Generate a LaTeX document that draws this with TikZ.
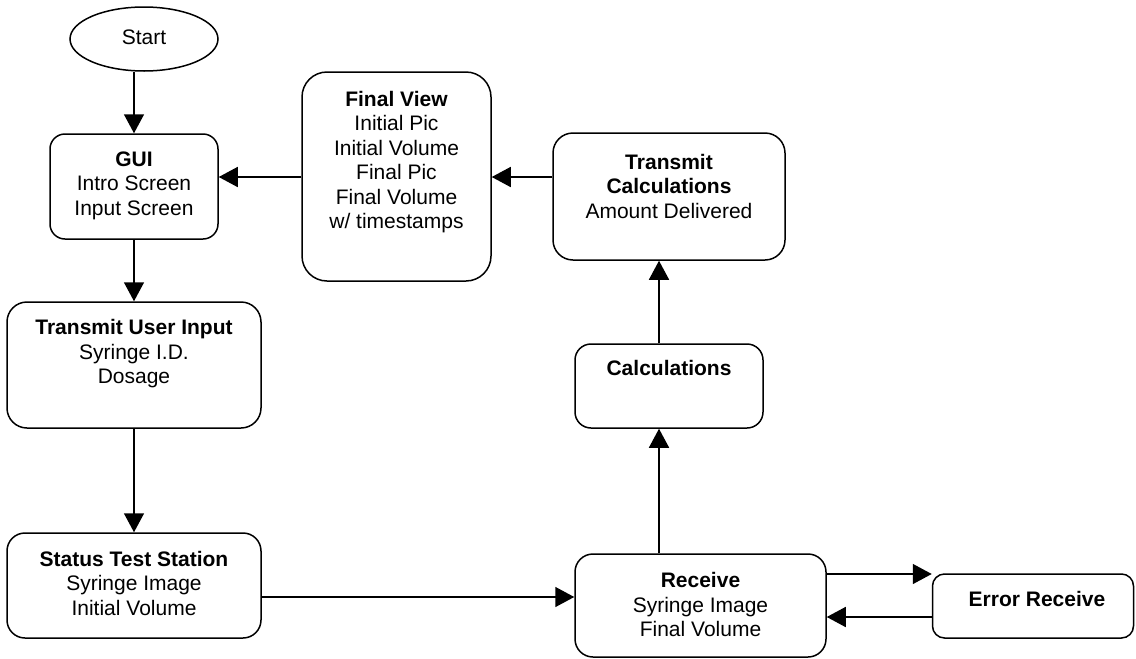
\documentclass[tikz,border=0pt]{standalone}
\usepackage{fontspec}
\setmainfont{Liberation Sans}
\usetikzlibrary{arrows.meta,shapes.geometric}
\begin{document}
\begin{tikzpicture}[x=1pt,y=-1pt,
  box/.style={draw,line width=1.5pt,rounded corners=#1,inner sep=0pt},
  box/.default=16pt,
  lbl/.style={align=center,inner sep=0pt,font=\fontsize{21}{24.5}\selectfont},
  flow/.style={line width=1.5pt,-{Triangle[length=19pt,width=20pt]}}]
\useasboundingbox (0,0) rectangle (1136,659);

% process boxes
\node[draw,line width=1.5pt,ellipse,inner sep=0pt,minimum width=148pt,minimum height=64pt] (start) at (144,39) {};
\node[box=15pt,minimum width=168pt,minimum height=105pt] (gui)  at (134,186.5) {};
\node[box=25pt,minimum width=189pt,minimum height=209pt] (fv)   at (396.5,176.5) {};
\node[box=20pt,minimum width=232pt,minimum height=127pt] (tc)   at (669,196.5) {};
\node[box=20pt,minimum width=254pt,minimum height=126pt] (tui)  at (134,365) {};
\node[box=16pt,minimum width=188pt,minimum height=84pt]  (calc) at (669,386) {};
\node[box=18pt,minimum width=254pt,minimum height=105pt] (sts)  at (134,585.5) {};
\node[box=18pt,minimum width=251pt,minimum height=103pt] (rcv)  at (700.5,605.5) {};
\node[box=12pt,minimum width=201pt,minimum height=64pt]  (err)  at (1033,606) {};

% box texts
\node[lbl] (start-t) at (144,37) {Start};
\node[lbl] (gui-t)  at (134,185.5) {\textbf{GUI}\\Intro Screen\\Input Screen};
\node[lbl] (fv-t)   at (396.5,162) {\textbf{Final View}\\Initial Pic\\Initial Volume\\Final Pic\\Final Volume\\w/ timestamps};
\node[lbl] (tc-t)   at (669,186) {\textbf{Transmit}\\\textbf{Calculations}\\Amount Delivered};
\node[lbl] (tui-t)  at (134,354) {\textbf{Transmit User Input}\\Syringe I.D.\\Dosage};
\node[lbl] (calc-t) at (669,368) {\textbf{Calculations}};
\node[lbl] (sts-t)  at (134,583) {\textbf{Status Test Station}\\Syringe Image\\Initial Volume};
\node[lbl] (rcv-t)  at (700.5,604.5) {\textbf{Receive}\\Syringe Image\\Final Volume};
\node[lbl] (err-t)  at (1037,599) {\textbf{Error Receive}};

% connectors
\draw[flow] (gui.north |- start.south) -- (gui.north);
\draw[flow] (gui.south) -- (tui.north);
\draw[flow] (tui.south) -- (sts.north);
\draw[flow] (sts.east |- 0,597) -- (rcv.west |- 0,597);
\draw[flow] (rcv.north -| 659,0) -- (calc.south -| 659,0);
\draw[flow] (calc.north -| 659,0) -- (tc.south -| 659,0);
\draw[flow] (tc.west |- 0,177) -- (fv.east |- 0,177);
\draw[flow] (fv.west |- 0,177) -- (gui.east |- 0,177);
\draw[flow] (rcv.east |- 0,574) -- (err.west |- 0,574);
\draw[flow] (err.west |- 0,617) -- (rcv.east |- 0,617);
\end{tikzpicture}
\end{document}
